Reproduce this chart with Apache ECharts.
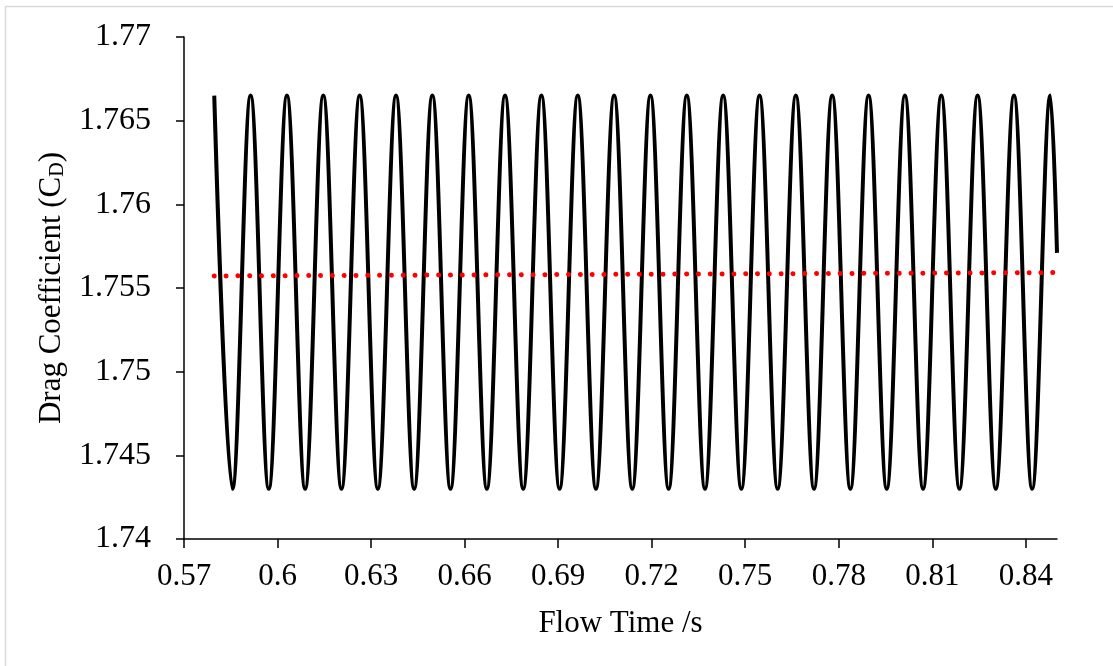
<!DOCTYPE html>
<html>
<head>
<meta charset="utf-8">
<script src="https://cdn.jsdelivr.net/npm/echarts@6/dist/echarts.min.js"></script>
<style>
html, body { margin: 0; padding: 0; background: #fff; }
#chart { width: 1113px; height: 666px; }
</style>
</head>
<body>
<div id="chart"></div>
<script>
// Drag coefficient: peaks and troughs, plus the end point
const cdTime = [
  0.57970, 0.58553, 0.59136, 0.59719, 0.60302, 0.60885, 0.61468, 0.62051,
  0.62634, 0.63217, 0.63800, 0.64382, 0.64965, 0.65548, 0.66131, 0.66714,
  0.67297, 0.67880, 0.68463, 0.69046, 0.69629, 0.70212, 0.70795, 0.71378,
  0.71961, 0.72544, 0.73127, 0.73710, 0.74293, 0.74876, 0.75459, 0.76041,
  0.76624, 0.77207, 0.77790, 0.78373, 0.78956, 0.79539, 0.80122, 0.80705,
  0.81288, 0.81871, 0.82454, 0.83037, 0.83620, 0.84203, 0.84786, 0.85000
];
const cdValue = [
  1.7665, 1.7430, 1.7665, 1.7430, 1.7665, 1.7430, 1.7665, 1.7430,
  1.7665, 1.7430, 1.7665, 1.7430, 1.7665, 1.7430, 1.7665, 1.7430,
  1.7665, 1.7430, 1.7665, 1.7430, 1.7665, 1.7430, 1.7665, 1.7430,
  1.7665, 1.7430, 1.7665, 1.7430, 1.7665, 1.7430, 1.7665, 1.7430,
  1.7665, 1.7430, 1.7665, 1.7430, 1.7665, 1.7430, 1.7665, 1.7430,
  1.7665, 1.7430, 1.7665, 1.7430, 1.7665, 1.7430, 1.7665, 1.7571
];
// Mean (red dotted) line
const meanTime = [0.5797, 0.715, 0.85];
const meanValue = [1.75572, 1.75582, 1.75592];

// Tick values and labels
const xTickValues = [0.57, 0.60, 0.63, 0.66, 0.69, 0.72, 0.75, 0.78, 0.81, 0.84];
const xTickLabels = ['0.57', '0.6', '0.63', '0.66', '0.69', '0.72', '0.75', '0.78', '0.81', '0.84'];
const yTickValues = [1.74, 1.745, 1.75, 1.755, 1.76, 1.765, 1.77];
const yTickLabels = ['1.74', '1.745', '1.75', '1.755', '1.76', '1.765', '1.77'];

function pick(vals, labels, v) {
  const i = vals.findIndex(t => Math.abs(t - v) < 1e-6);
  return i >= 0 ? labels[i] : '';
}

const FONT = "'Liberation Serif', 'Times New Roman', serif";
const chart = echarts.init(document.getElementById('chart'), null, { renderer: 'canvas' });

chart.setOption({
  animation: false,
  backgroundColor: '#fff',
  graphic: [{
    type: 'rect',
    shape: { x: 5.5, y: 6.5, width: 1300, height: 900 },
    style: { fill: null, stroke: '#d9d9d9', lineWidth: 1.5 },
    silent: true
  }],
  grid: { left: 184, right: 56, top: 37, bottom: 127 },
  xAxis: {
    type: 'value',
    min: 0.57, max: 0.85,
    splitLine: { show: false },
    axisLine: { lineStyle: { color: '#000', width: 1.5 } },
    axisTick: { length: 9, lineStyle: { color: '#000', width: 1.5 }, customValues: xTickValues },
    axisLabel: {
      customValues: xTickValues,
      formatter: v => pick(xTickValues, xTickLabels, v),
      fontFamily: FONT, fontSize: 31, color: '#000', margin: 22
    },
    name: 'Flow Time /s',
    nameLocation: 'middle',
    nameGap: 69,
    nameTextStyle: { fontFamily: FONT, fontSize: 31, color: '#000' }
  },
  yAxis: {
    type: 'value',
    min: 1.74, max: 1.77,
    splitLine: { show: false },
    axisLine: { show: true, lineStyle: { color: '#000', width: 1.5 } },
    axisTick: { show: true, length: 8, lineStyle: { color: '#000', width: 1.5 }, customValues: yTickValues },
    axisLabel: {
      customValues: yTickValues,
      formatter: v => pick(yTickValues, yTickLabels, v),
      fontFamily: FONT, fontSize: 32, color: '#000', margin: 33
    },
    name: 'Drag Coefficient (C{sub|D})',
    nameLocation: 'middle',
    nameGap: 111,
    nameTextStyle: {
      fontFamily: FONT, fontSize: 31, color: '#000',
      rich: { sub: { fontFamily: FONT, fontSize: 20, color: '#000', verticalAlign: 'bottom', padding: [12, 0, 0, 0] } }
    }
  },
  series: [{
    type: 'line',
    data: cdTime.map((t, i) => [t, cdValue[i]]),
    showSymbol: false,
    smooth: 0.363,
    lineStyle: { color: '#000', width: 4 },
    z: 2
  }, {
    type: 'line',
    data: meanTime.map((t, i) => [t, meanValue[i]]),
    showSymbol: false,
    lineStyle: { color: '#ff0000', width: 5, type: [0.01, 11.8], cap: 'round' },
    z: 3
  }]
});
</script>
</body>
</html>
